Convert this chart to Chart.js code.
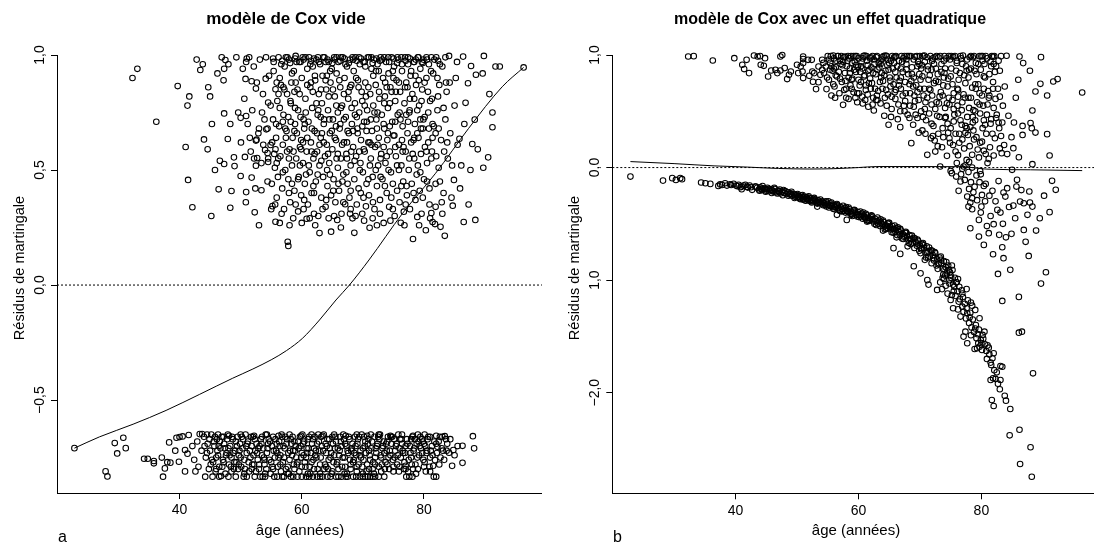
<!DOCTYPE html>
<html><head><meta charset="utf-8">
<script src="https://cdn.jsdelivr.net/npm/chart.js@4.4.1/dist/chart.umd.min.js"></script>
<style>
html,body{margin:0;padding:0;background:#fff;overflow:hidden;width:1094px;height:546px;}
canvas{position:absolute;top:0;}
#c1{left:0}
#c2{left:547px}
</style></head><body>
<canvas id="c1" width="547" height="546"></canvas>
<canvas id="c2" width="570" height="546"></canvas>
<script>
// ---------- tick values / labels ----------
const ageTicks = [40, 60, 80];
const ageTickLabels = ['40', '60', '80'];
const leftYTicks = [1, 0.5, 0, -0.5];
const leftYTickLabels = ['1,0', '0,5', '0,0', '\u22120,5'];
const rightYTicks = [1, 0, -1, -2];
const rightYTickLabels = ['1,0', '0,0', '1,0', '\u22122,0'];

// ---------- panel a : modèle vide (pairs age, résidu) ----------
const leftDeaths = [
32.3,0.90, 33.1,0.94, 36.2,0.71, 39.7,0.865, 41.6,0.82, 41.3,0.78, 41.0,0.60, 41.4,0.457, 42.1,0.338, 42.8,0.98,
43.4,0.935, 43.8,0.96, 44.7,0.86, 44.0,0.633, 44.6,0.59, 45.3,0.70, 45.2,0.30, 45.8,0.50, 46.4,0.416, 46.6,0.54,
47.3,0.526, 47.3,0.746, 47.2,0.89, 47.3,0.94, 47.5,0.978, 47.9,0.635, 48.3,0.336, 48.5,0.409, 48.9,0.555, 49.0,0.517,
50.0,0.727, 50.0,0.474, 50.8,0.896, 50.9,0.735, 50.9,0.97, 51.0,0.985, 50.7,0.557, 50.9,0.404, 51.8,0.886, 51.8,0.467,
52.3,0.316, 52.5,0.854, 52.5,0.628, 52.6,0.632, 52.2,0.55, 52.7,0.552, 52.5,0.519, 53.0,0.26, 53.4,0.412, 53.5,0.75,
54.1,0.897, 54.2,0.677, 54.4,0.68, 54.0,0.587, 54.5,0.793, 54.4,0.574, 54.5,0.535, 54.5,0.55, 54.9,0.609, 55.7,0.851,
55.7,0.275, 55.2,0.343, 55.0,0.33, 55.7,0.59,
55.1,0.44, 55.3,0.72, 55.4,0.93, 55.6,0.51, 55.8,0.64, 55.9,0.38, 56.0,0.80, 56.1,0.47, 56.2,0.99, 56.3,0.69,
56.4,0.27, 56.5,0.56, 56.6,0.87, 56.8,0.42, 56.9,0.61, 57.0,0.74, 57.1,0.33, 57.2,0.95, 57.3,0.50, 57.5,0.67,
57.6,0.83, 57.7,0.188, 57.8,0.17, 57.8,0.46, 57.9,0.98, 58.0,0.59, 58.1,0.36, 58.2,0.71, 58.3,0.88, 58.4,0.52,
58.5,0.64, 58.6,0.29, 58.7,0.93, 58.8,0.41, 58.9,0.77, 59.0,0.996, 59.1,0.55, 59.2,0.66, 59.3,0.85, 59.4,0.32,
59.5,0.47, 59.6,0.97, 59.7,0.60, 59.8,0.73, 59.9,0.39, 60.0,0.27, 60.0,0.90, 60.2,0.53, 60.3,0.98, 60.4,0.68,
60.5,0.44, 60.6,0.81, 60.8,0.288, 60.8,0.58, 60.9,0.94,
61.0,0.35, 61.1,0.71, 61.2,0.99, 61.3,0.49, 61.4,0.86, 61.5,0.62, 61.6,0.40, 61.7,0.77, 61.8,0.95, 61.9,0.55,
62.0,0.31, 62.1,0.67, 62.2,0.89, 62.3,0.45, 62.4,0.98, 62.5,0.58, 62.6,0.74, 62.7,0.30, 62.8,0.83, 62.9,0.226,
62.9,0.52, 63.0,0.96, 63.1,0.64, 63.2,0.38, 63.3,0.79, 63.4,0.91, 63.5,0.47, 63.6,0.70, 63.7,0.99, 63.8,0.56,
63.9,0.34, 64.0,0.85, 64.1,0.61, 64.2,0.43, 64.3,0.76, 64.4,0.97, 64.5,0.53, 64.6,0.66, 64.7,0.88, 64.8,0.232,
64.8,0.39, 64.9,0.94, 65.0,0.59, 65.1,0.72, 65.2,0.46, 65.3,0.99, 65.4,0.82, 65.5,0.36, 65.6,0.63, 65.7,0.92,
65.8,0.283, 65.9,0.51, 65.9,0.75,
66.0,0.97, 66.1,0.41, 66.2,0.68, 66.3,0.86, 66.4,0.55, 66.5,0.31, 66.6,0.78, 66.7,0.99, 66.8,0.48, 66.9,0.62,
67.0,0.90, 67.1,0.351, 67.2,0.73, 67.3,0.57, 67.4,0.95, 67.5,0.44, 67.6,0.81, 67.7,0.66, 67.8,0.38, 67.9,0.98,
68.0,0.52, 68.1,0.87, 68.2,0.70, 68.3,0.29, 68.4,0.60, 68.5,0.93, 68.6,0.227, 68.6,0.46, 68.7,0.79, 68.8,0.99,
68.9,0.56, 69.0,0.35, 69.1,0.68, 69.2,0.89, 69.3,0.42, 69.4,0.75, 69.5,0.96, 69.6,0.53, 69.7,0.63, 69.8,0.84,
69.9,0.31, 70.0,0.49, 70.1,0.97, 70.2,0.71, 70.3,0.58, 70.4,0.88, 70.5,0.342, 70.6,0.44, 70.7,0.76, 70.8,0.99,
70.9,0.62,
71.0,0.39, 71.1,0.249, 71.2,0.83, 71.3,0.55, 71.4,0.94, 71.5,0.67, 71.6,0.47, 71.7,0.78, 71.8,0.98, 71.9,0.33,
72.0,0.60, 72.1,0.87, 72.2,0.72, 72.3,0.43, 72.4,0.96, 72.5,0.52, 72.6,0.64, 72.7,0.81, 72.8,0.37, 72.9,0.99,
73.0,0.57, 73.1,0.74, 73.2,0.46, 73.3,0.90, 73.4,0.27, 73.5,0.68, 73.6,0.82, 73.7,0.53, 73.8,0.97, 73.9,0.40,
74.0,0.63, 74.1,0.77, 74.2,0.92, 74.3,0.34, 74.4,0.58, 74.5,0.86, 74.6,0.49, 74.7,0.99, 74.8,0.71, 74.9,0.44,
75.0,0.65, 75.1,0.95, 75.2,0.30, 75.3,0.80, 75.4,0.56, 75.5,0.89, 75.6,0.41, 75.7,0.74, 75.8,0.98, 75.9,0.61,
76.0,0.36, 76.1,0.84, 76.2,0.271, 76.3,0.52, 76.4,0.93, 76.5,0.69, 76.6,0.45, 76.7,0.319, 76.8,0.79, 76.9,0.99,
77.0,0.58, 77.1,0.88, 77.2,0.39, 77.3,0.66, 77.4,0.96, 77.5,0.50, 77.6,0.75, 77.7,0.33, 77.8,0.91, 77.9,0.62,
78.0,0.44, 78.1,0.83, 78.2,0.20, 78.3,0.97, 78.4,0.55, 78.5,0.70, 78.6,0.37, 78.7,0.87, 78.8,0.48, 78.9,0.296,
79.0,0.99, 79.1,0.64, 79.2,0.78, 79.3,0.41, 79.4,0.94, 79.5,0.57, 79.6,0.31, 79.7,0.85, 79.8,0.68, 79.9,0.98,
80.0,0.46, 80.1,0.73, 80.3,0.238, 80.4,0.90, 80.5,0.53, 80.7,0.62, 80.8,0.96, 80.9,0.35,
81.0,0.80, 81.2,0.313, 81.3,0.58, 81.4,0.274, 81.5,0.92, 81.6,0.69, 81.8,0.265, 81.9,0.44, 82.0,0.99, 82.2,0.76,
82.4,0.51, 82.5,0.87, 82.7,0.253, 82.8,0.63, 83.0,0.95, 83.2,0.40, 83.4,0.214, 83.5,0.72, 83.7,0.84, 83.9,0.55,
84.1,0.996, 84.3,0.66, 84.5,0.38, 84.7,0.345, 84.9,0.457, 85.0,0.78, 85.2,0.90, 85.5,0.61, 85.8,0.636, 86.1,0.52,
86.4,0.993, 86.5,0.274, 86.8,0.792, 87.2,0.877, 87.6,0.50, 87.7,0.952, 87.9,0.613, 88.3,0.719, 88.4,0.283, 88.5,0.914,
88.8,0.59, 89.6,0.92, 89.7,0.51, 89.8,0.996, 90.5,0.555, 90.7,0.83, 91.2,0.75, 91.2,0.686, 91.7,0.95, 92.4,0.95,
96.3,0.946
];
const leftDeathsMore = [
50.05,0.62, 50.35,0.94, 50.6,0.81, 50.85,0.36, 51.15,0.70, 51.4,0.99, 51.65,0.58, 51.9,0.76, 52.15,0.95, 52.4,0.42,
52.65,0.88, 52.9,0.66, 53.15,0.98, 53.4,0.53, 53.65,0.83, 53.9,0.72, 54.15,0.99, 54.4,0.45, 54.65,0.91, 54.9,0.78,
55.15,0.62, 55.4,0.97, 55.65,0.35, 55.9,0.88, 56.15,0.55, 56.4,0.77, 56.65,0.96, 56.9,0.49, 57.15,0.85, 57.4,0.64,
57.65,0.99, 57.9,0.40, 58.15,0.80, 58.4,0.92, 58.65,0.58, 58.9,0.70, 59.15,0.97, 59.4,0.46, 59.65,0.83, 59.9,0.63,
60.15,0.99, 60.4,0.37, 60.65,0.75, 60.9,0.87, 61.15,0.52, 61.4,0.96, 61.65,0.68, 61.9,0.43, 62.15,0.91, 62.4,0.79,
62.65,0.99, 62.9,0.61, 63.15,0.85, 63.4,0.33, 63.65,0.72, 63.9,0.97, 64.15,0.50, 64.4,0.82, 64.65,0.93, 64.9,0.67,
65.15,0.41, 65.4,0.98, 65.65,0.78, 65.9,0.57, 66.15,0.89, 66.4,0.99, 66.65,0.45, 66.9,0.72, 67.15,0.96, 67.4,0.62,
67.65,0.84, 67.9,0.31, 68.15,0.77, 68.4,0.98, 68.65,0.54, 68.9,0.90, 69.15,0.66, 69.4,0.99, 69.65,0.40, 69.9,0.80,
70.15,0.59, 70.4,0.95, 70.65,0.71, 70.9,0.86, 71.15,0.52, 71.4,0.99, 71.65,0.36, 71.9,0.75, 72.15,0.93, 72.4,0.61,
72.65,0.84, 72.9,0.47, 73.15,0.98, 73.4,0.70, 73.65,0.88, 73.9,0.56, 74.15,0.99, 74.4,0.79, 74.65,0.38, 74.9,0.93,
75.15,0.65, 75.4,0.84, 75.65,0.99, 75.9,0.50, 76.15,0.72, 76.4,0.96, 76.65,0.60, 76.9,0.86, 77.15,0.43, 77.4,0.99,
77.65,0.76, 77.9,0.93, 78.15,0.57, 78.4,0.81, 78.65,0.98, 78.9,0.66, 79.15,0.89, 79.4,0.49, 79.65,0.97, 79.9,0.72,
80.15,0.60, 80.4,0.99, 80.65,0.84, 80.9,0.42, 81.15,0.93, 81.4,0.70, 81.7,0.98, 82.0,0.56, 82.3,0.82, 82.6,0.96,
82.9,0.36, 83.2,0.77, 83.5,0.99, 83.8,0.62, 84.2,0.88, 84.6,0.52, 85.4,0.97, 85.9,0.42, 86.6,0.70, 87.3,0.35,
55.3,0.985, 56.8,0.975, 57.4,0.99, 58.1,0.965, 58.9,0.985, 59.8,0.97, 60.6,0.99, 61.5,0.975, 62.0,0.985, 62.8,0.97,
63.5,0.99, 64.2,0.98, 65.0,0.965, 65.7,0.99, 66.3,0.975, 67.0,0.985, 67.7,0.965, 68.3,0.99, 69.0,0.975, 69.7,0.985,
70.3,0.97, 71.0,0.99, 71.6,0.965, 72.2,0.985, 72.8,0.975, 73.5,0.99, 74.3,0.97, 75.0,0.985, 75.6,0.965, 76.3,0.99,
77.0,0.975, 77.7,0.985, 78.4,0.97, 79.1,0.99, 79.8,0.965, 80.5,0.98, 81.2,0.99, 82.3,0.975,
60.3,0.72, 60.9,0.64, 61.5,0.88, 62.1,0.57, 62.7,0.76, 63.3,0.66, 63.9,0.89, 64.5,0.72, 65.1,0.85, 65.7,0.55,
66.3,0.70, 66.9,0.83, 67.5,0.67, 68.1,0.58, 68.7,0.74, 69.3,0.86, 69.9,0.69, 70.5,0.82, 71.1,0.62, 71.7,0.91,
72.3,0.68, 72.9,0.55, 73.5,0.79, 74.1,0.66, 74.7,0.84, 75.3,0.71, 75.9,0.88, 76.5,0.58, 77.1,0.74, 77.7,0.81,
78.3,0.63, 78.9,0.76, 79.5,0.68, 80.1,0.88, 80.7,0.75, 81.3,0.81, 81.9,0.66, 57.0,0.86, 57.6,0.58, 58.2,0.79,
58.8,0.67, 59.4,0.76, 55.8,0.70, 56.4,0.90, 53.0,0.68, 53.7,0.61, 51.5,0.64, 49.6,0.75, 48.3,0.70, 46.2,0.92,
45.0,0.82, 48.0,0.96, 49.3,0.99, 46.9,0.99
];
const leftDeathsExtra = [
55.5,0.57, 56.7,0.31, 57.3,0.68, 58.4,0.44, 59.0,0.35, 59.7,0.52, 60.7,0.48, 61.3,0.29, 62.0,0.40, 62.5,0.66,
63.2,0.54, 64.0,0.37, 64.6,0.48, 65.3,0.30, 66.0,0.44, 66.8,0.36, 67.3,0.49, 68.0,0.41, 68.8,0.30, 69.5,0.50,
70.1,0.38, 70.9,0.46, 71.6,0.29, 72.1,0.50, 72.8,0.31, 73.6,0.43, 74.2,0.50, 74.9,0.33, 75.6,0.52, 76.3,0.43,
77.0,0.35, 77.6,0.55, 78.3,0.40, 79.0,0.52, 79.8,0.38, 80.5,0.45, 81.2,0.55, 81.9,0.34, 82.6,0.45, 83.3,0.58,
56.2,0.83, 57.8,0.73, 59.0,0.88, 60.2,0.62, 61.8,0.84, 63.1,0.73, 64.1,0.91, 65.6,0.69, 66.6,0.61, 67.9,0.86,
69.0,0.73, 70.3,0.78, 71.3,0.72, 72.6,0.93, 73.9,0.86, 75.0,0.90, 76.0,0.75, 77.3,0.86, 78.6,0.91, 79.6,0.80,
80.8,0.68, 82.2,0.90, 83.6,0.88,
55.9,0.53, 56.9,0.71, 57.9,0.55, 58.8,0.84, 59.9,0.59, 60.5,0.70, 61.6,0.58, 62.6,0.48, 63.6,0.62, 64.3,0.57,
65.4,0.64, 66.4,0.77, 67.4,0.55, 68.4,0.67, 69.4,0.58, 70.6,0.67, 71.4,0.61, 72.4,0.75, 73.4,0.60, 74.4,0.69,
75.3,0.60, 76.4,0.63, 77.4,0.71, 78.4,0.64, 79.4,0.72, 80.4,0.58, 81.4,0.64, 82.4,0.68,
58.0,0.26, 60.3,0.33, 62.2,0.26, 64.4,0.29, 66.4,0.25, 68.0,0.33, 70.2,0.28, 72.3,0.26, 74.5,0.28, 76.8,0.26,
79.2,0.26, 81.0,0.29, 83.0,0.31
];
const leftCensored = [
22.8,-0.709, 27.9,-0.81, 28.2,-0.832, 29.4,-0.687, 29.8,-0.732, 30.8,-0.664, 31.2,-0.709, 34.2,-0.755, 34.8,-0.755, 35.8,-0.765,
35.8,-0.775, 37.1,-0.75, 37.3,-0.833, 37.6,-0.797, 38.0,-0.77, 38.5,-0.772, 38.3,-0.684, 39.3,-0.72, 39.5,-0.664, 40.0,-0.661,
40.5,-0.658, 39.9,-0.768, 40.9,-0.717, 40.9,-0.81, 41.5,-0.652, 41.3,-0.733, 42.6,-0.81, 43.3,-0.648, 43.7,-0.648,
42.1,-0.70, 42.4,-0.76, 42.9,-0.68, 43.1,-0.79, 43.6,-0.72, 44.0,-0.66, 44.3,-0.75, 44.6,-0.69, 44.8,-0.80, 45.0,-0.72,
45.2,-0.65, 45.5,-0.77, 45.7,-0.70, 45.9,-0.81, 46.1,-0.67, 46.3,-0.74, 46.5,-0.79, 46.7,-0.71, 46.9,-0.66, 47.1,-0.76,
47.3,-0.69, 47.5,-0.82, 47.7,-0.73, 47.9,-0.65, 48.1,-0.78, 48.3,-0.70, 48.5,-0.75, 48.7,-0.67, 48.9,-0.80, 49.1,-0.72,
49.3,-0.77, 49.5,-0.66, 49.7,-0.74, 49.9,-0.69, 50.1,-0.79, 50.3,-0.71, 50.6,-0.76, 50.8,-0.65, 51.0,-0.73, 51.2,-0.68,
51.4,-0.81, 51.6,-0.75, 51.8,-0.70, 52.0,-0.66, 52.2,-0.78, 52.4,-0.72, 52.6,-0.69, 52.8,-0.76, 53.0,-0.80, 53.3,-0.67,
53.5,-0.74, 53.7,-0.71, 53.9,-0.78, 54.1,-0.65, 54.3,-0.73, 54.5,-0.69, 54.7,-0.76, 54.9,-0.82, 55.1,-0.70, 55.3,-0.66,
55.6,-0.75, 55.8,-0.72, 56.1,-0.79, 56.3,-0.68, 56.5,-0.74, 56.7,-0.65, 56.9,-0.77, 57.2,-0.71, 57.4,-0.80, 57.6,-0.67,
57.8,-0.73, 58.0,-0.76, 58.3,-0.69, 58.5,-0.66, 58.7,-0.78, 58.9,-0.72, 59.1,-0.75, 59.4,-0.68, 59.6,-0.81, 59.8,-0.70,
60.1,-0.65, 60.3,-0.74, 60.5,-0.77, 60.8,-0.71, 61.0,-0.67, 61.3,-0.79, 61.5,-0.73, 61.7,-0.69, 61.9,-0.76, 62.1,-0.66,
62.3,-0.72, 62.6,-0.80, 62.8,-0.68, 63.1,-0.75, 63.3,-0.70, 63.6,-0.65, 63.8,-0.78, 64.0,-0.73, 64.2,-0.67, 64.4,-0.76,
64.6,-0.71, 64.9,-0.82, 65.1,-0.69, 65.3,-0.74, 65.5,-0.66, 65.8,-0.77, 66.2,-0.72, 66.4,-0.68, 66.6,-0.79, 66.8,-0.65,
67.0,-0.75, 67.3,-0.70, 67.6,-0.73, 67.8,-0.67, 68.0,-0.80, 68.2,-0.71, 68.5,-0.76, 68.7,-0.66, 68.9,-0.74, 69.1,-0.69,
69.3,-0.78, 69.6,-0.72, 69.8,-0.65, 70.1,-0.76, 70.3,-0.70, 70.6,-0.81, 70.9,-0.67, 71.1,-0.74, 71.4,-0.71, 71.7,-0.77,
71.9,-0.66, 72.2,-0.73, 72.4,-0.69, 72.6,-0.79, 72.8,-0.65, 73.0,-0.75, 73.2,-0.71, 73.4,-0.68, 73.7,-0.77, 73.9,-0.72,
74.1,-0.66, 74.3,-0.80, 74.5,-0.74, 74.7,-0.69, 74.9,-0.76, 75.1,-0.67, 75.3,-0.72, 75.6,-0.78, 75.8,-0.65, 76.0,-0.71,
76.2,-0.75, 76.4,-0.69, 76.7,-0.80, 76.9,-0.73, 77.2,-0.67, 77.4,-0.812, 77.0,-0.786, 77.7,-0.70, 77.9,-0.75, 78.1,-0.66,
78.3,-0.72, 78.6,-0.78, 78.8,-0.69, 79.0,-0.65, 79.2,-0.74, 79.5,-0.71, 79.7,-0.67, 79.9,-0.76, 80.2,-0.70, 80.4,-0.73,
80.7,-0.66, 80.9,-0.79, 81.1,-0.72, 81.5,-0.786, 81.8,-0.761, 82.2,-0.703, 82.4,-0.68, 82.7,-0.75, 83.0,-0.66, 83.4,-0.657,
83.7,-0.72, 84.1,-0.729, 84.6,-0.786, 84.8,-0.717, 85.5,-0.70, 86.3,-0.699, 86.3,-0.773, 88.0,-0.657, 88.2,-0.71,
45.1,-0.78, 45.6,-0.68, 46.0,-0.75, 46.4,-0.70, 46.8,-0.83, 47.2,-0.66, 47.6,-0.74, 48.0,-0.71, 48.4,-0.79, 48.8,-0.73,
49.2,-0.68, 49.6,-0.80, 50.0,-0.75, 50.4,-0.67, 50.9,-0.70, 51.3,-0.77, 51.7,-0.66, 52.1,-0.74, 52.5,-0.81, 52.9,-0.71,
53.4,-0.69, 53.8,-0.75, 54.2,-0.80, 54.6,-0.67, 55.0,-0.77, 55.4,-0.72, 55.9,-0.69, 56.2,-0.75, 56.6,-0.81, 57.0,-0.70,
57.3,-0.66, 57.7,-0.79, 58.1,-0.72, 58.4,-0.74, 58.8,-0.68, 59.2,-0.78, 59.5,-0.71, 59.9,-0.75, 60.2,-0.69, 60.6,-0.79,
60.9,-0.73, 61.2,-0.66, 61.6,-0.77, 62.0,-0.71, 62.4,-0.75, 62.7,-0.65, 63.0,-0.78, 63.5,-0.72, 63.9,-0.69, 64.3,-0.80,
64.7,-0.75, 65.0,-0.66, 65.4,-0.71, 65.7,-0.78, 66.1,-0.74, 66.5,-0.70, 66.9,-0.67, 67.1,-0.79, 67.5,-0.72, 67.9,-0.76,
68.3,-0.69, 68.6,-0.73, 69.0,-0.81, 69.4,-0.66, 69.7,-0.75, 70.0,-0.71, 70.4,-0.68, 70.7,-0.78, 71.0,-0.72, 71.3,-0.65,
71.6,-0.80, 72.0,-0.75, 72.3,-0.70, 72.7,-0.67, 73.1,-0.78, 73.5,-0.73, 73.8,-0.69, 74.2,-0.75, 74.6,-0.66, 75.0,-0.79,
75.4,-0.70, 75.7,-0.74, 76.1,-0.67, 76.5,-0.72, 76.8,-0.77, 77.3,-0.69, 77.8,-0.73, 78.2,-0.80, 78.5,-0.67, 78.9,-0.75,
79.3,-0.70, 79.8,-0.68, 80.1,-0.77, 80.5,-0.72, 81.0,-0.66, 81.4,-0.74, 82.0,-0.69, 82.5,-0.78, 83.1,-0.72, 83.6,-0.67
];
const leftCensoredMore = [
44.1,-0.70, 44.5,-0.73, 44.9,-0.67, 45.3,-0.76, 45.8,-0.66, 46.2,-0.72, 46.6,-0.68, 47.0,-0.79, 47.4,-0.71, 47.8,-0.67,
48.2,-0.74, 48.6,-0.66, 49.0,-0.77, 49.4,-0.70, 49.8,-0.72, 50.2,-0.66, 50.7,-0.80, 51.1,-0.69, 51.5,-0.72, 51.9,-0.78,
52.3,-0.67, 52.7,-0.73, 53.1,-0.70, 53.5,-0.66, 53.9,-0.76, 54.4,-0.71, 54.8,-0.68, 55.2,-0.79, 55.7,-0.67, 56.0,-0.73,
56.4,-0.70, 56.8,-0.66, 57.1,-0.75, 57.5,-0.69, 57.9,-0.82, 58.2,-0.67, 58.6,-0.72, 59.0,-0.70, 59.3,-0.77, 59.7,-0.66,
60.0,-0.73, 60.4,-0.68, 60.7,-0.75, 61.1,-0.71, 61.4,-0.82, 61.8,-0.67, 62.2,-0.74, 62.5,-0.69, 62.9,-0.72, 63.2,-0.66,
63.7,-0.80, 64.1,-0.70, 64.5,-0.67, 64.8,-0.73, 65.2,-0.77, 65.6,-0.68, 65.9,-0.71, 66.3,-0.66, 66.7,-0.75, 67.1,-0.69,
67.4,-0.82, 67.7,-0.66, 68.1,-0.72, 68.4,-0.77, 68.8,-0.70, 69.2,-0.67, 69.5,-0.74, 69.9,-0.79, 70.2,-0.66, 70.5,-0.73,
70.8,-0.69, 71.2,-0.76, 71.5,-0.68, 71.8,-0.82, 72.1,-0.71, 72.5,-0.66, 72.9,-0.74, 73.3,-0.70, 73.6,-0.80, 74.0,-0.68,
74.4,-0.72, 74.8,-0.66, 75.2,-0.75, 75.5,-0.69, 75.9,-0.81, 76.3,-0.67, 76.6,-0.73, 77.0,-0.70, 77.5,-0.76, 77.9,-0.67,
78.4,-0.71, 78.7,-0.82, 79.1,-0.68, 79.4,-0.66, 79.7,-0.73, 80.0,-0.69, 80.3,-0.81, 80.6,-0.67, 81.0,-0.75, 81.3,-0.70,
81.7,-0.68, 82.1,-0.73, 82.6,-0.66, 82.9,-0.71, 83.3,-0.76, 83.8,-0.69, 84.3,-0.67, 85.0,-0.74,
46.0,-0.80, 47.2,-0.77, 48.5,-0.81, 49.7,-0.78, 50.6,-0.82, 51.8,-0.80, 53.0,-0.78, 54.0,-0.82, 55.3,-0.80, 56.5,-0.78,
57.7,-0.82, 58.8,-0.80, 60.0,-0.79, 61.0,-0.82, 62.0,-0.80, 63.0,-0.82, 64.0,-0.79, 65.0,-0.81, 66.0,-0.80, 67.0,-0.82,
68.0,-0.78, 69.0,-0.79, 70.0,-0.82, 71.0,-0.80, 72.0,-0.78, 73.0,-0.81, 74.0,-0.78, 75.0,-0.81, 76.0,-0.79, 77.0,-0.80,
78.0,-0.78, 79.0,-0.80, 80.0,-0.79, 81.0,-0.81,
44.5,-0.65, 46.3,-0.65, 48.1,-0.655, 50.0,-0.65, 52.2,-0.655, 54.3,-0.65, 56.2,-0.655, 58.0,-0.65, 59.9,-0.655, 61.6,-0.65,
63.4,-0.655, 65.3,-0.65, 67.2,-0.655, 69.0,-0.65, 70.7,-0.655, 72.6,-0.65, 74.5,-0.655, 76.4,-0.65, 78.2,-0.655, 80.1,-0.65,
82.0,-0.655
];
// ages of censored subjects sitting on the lowest residual (-0,833)
const leftFloorAges = [44.2, 45.4, 46.5, 48.0, 49.2, 50.5, 51.0, 52.3, 53.2, 53.6, 54.0, 55.5, 56.0, 56.8, 57.1, 58.2,
  58.6, 59.3, 60.0, 60.7, 61.2, 61.8, 62.5, 63.0, 63.4, 64.2, 64.7, 65.6, 66.0, 66.5, 67.2, 67.5, 68.4, 68.9, 69.5,
  70.0, 70.4, 70.8, 71.2, 71.6, 72.0, 72.6, 73.5, 77.1, 77.6, 78.1, 81.6, 82.0];
const leftFloorRes = -0.833;
const leftSmoothAge = [22.8, 26.9, 32.4, 37.8, 43.3, 48.7, 52.0, 55.0, 57.5, 60.1, 62.9, 65.6, 67.8, 71.0, 76.5, 81.9, 87.3, 92.8, 96.3];
const leftSmoothRes = [-0.709, -0.66, -0.605, -0.545, -0.475, -0.405, -0.365, -0.325, -0.285, -0.232, -0.152, -0.065, 0.0, 0.109, 0.312, 0.486, 0.681, 0.862, 0.946];

// ---------- panel b : effet quadratique ----------
const rightDeaths = [
32.3,0.987, 33.2,0.99, 36.3,0.951, 39.8,0.972, 41.1,0.913, 41.4,0.875, 41.8,0.957, 42.2,0.839, 43.0,0.996, 43.6,0.987,
44.0,0.99, 44.1,0.913, 44.6,0.904, 44.8,0.972, 45.3,0.809, 45.8,0.862, 46.5,0.868, 46.8,0.839, 47.3,0.862, 47.3,0.987,
47.6,1.0, 48.0,0.884, 48.4,0.786, 48.7,0.824, 49.0,0.853, 50.0,0.913, 50.2,0.839, 50.6,0.898, 50.9,0.853, 51.0,0.987,
51.0,0.964, 51.0,0.928, 51.0,0.795, 51.8,0.957, 52.0,0.815, 52.4,0.957, 52.5,0.853, 52.6,0.762, 52.8,0.839, 53.1,0.697,
53.5,0.898, 53.5,0.759, 53.8,0.824, 54.1,0.868, 54.1,0.957, 54.4,0.839, 54.7,0.898, 54.8,0.697,
55.0,0.99, 55.2,0.78, 55.4,0.93, 55.6,0.64, 55.8,0.86, 56.0,0.97, 56.1,0.72, 56.3,0.89, 56.5,0.81, 56.7,0.99,
56.9,0.66, 57.1,0.92, 57.3,0.76, 57.5,0.557, 57.6,0.98, 57.8,0.84, 58.0,0.70, 58.2,0.95, 58.4,0.61, 58.6,0.88,
58.8,0.99, 59.0,0.79, 59.2,0.67, 59.4,0.94, 59.6,0.85, 59.8,0.58, 60.0,0.97, 60.2,0.73, 60.4,0.90, 60.6,0.63,
60.8,0.99, 61.0,0.82, 61.2,0.69, 61.4,0.95, 61.6,0.54, 61.8,0.87, 62.0,0.98, 62.2,0.75, 62.4,0.62, 62.5,0.507,
62.6,0.92, 62.8,0.83, 63.0,0.99, 63.2,0.68, 63.4,0.89, 63.6,0.57, 63.8,0.96, 64.0,0.77, 64.2,0.46, 64.4,0.86,
64.6,0.99, 64.8,0.65, 64.9,0.38, 65.0,0.93, 65.2,0.72, 65.4,0.52, 65.6,0.88, 65.8,0.98, 66.0,0.61, 66.2,0.80,
66.4,0.43, 66.6,0.95, 66.8,0.359, 66.9,0.70, 67.0,0.99, 67.2,0.85, 67.4,0.55, 67.6,0.76, 67.8,0.92, 68.0,0.47,
68.2,0.99, 68.4,0.66, 68.6,0.217, 68.7,0.83, 68.9,0.38, 69.0,0.96, 69.2,0.59, 69.4,0.73, 69.6,0.90, 69.8,0.31,
70.0,0.99, 70.2,0.50, 70.4,0.81, 70.6,0.64, 70.8,0.94, 71.0,0.42, 71.2,0.113, 71.3,0.87, 71.5,0.70, 71.7,0.99,
71.9,0.56, 72.1,0.28, 72.3,0.92, 72.5,0.142, 72.6,0.77, 72.8,0.46, 73.0,0.98, 73.2,0.63, 73.3,0.009, 73.5,0.85,
73.7,0.35, 73.9,0.95, 74.1,0.53, 74.4,0.104, 74.5,0.72, 74.7,0.99, 74.9,0.22, 75.1,0.88, 75.3,0.60, 75.5,0.41,
75.8,0.142, 76.0,0.93, 76.2,0.69, 76.4,0.30, 76.6,0.99, 76.8,0.51, 77.1,0.009, 77.2,0.82, 77.4,0.37, 77.6,0.068,
77.7,0.96, 77.9,0.62, 78.1,0.19, 78.3,0.88, 78.5,0.113, 78.6,0.45, 78.8,0.99, 79.0,0.74, 79.2,0.27, 79.5,0.92,
79.7,0.56, 80.0,0.99, 80.2,0.35, 80.4,0.81, 80.7,0.12, 80.9,0.97, 81.2,0.077, 81.3,0.64, 81.6,0.90, 82.0,0.107,
82.1,0.99, 82.5,0.47, 83.0,0.86, 83.3,0.128, 83.4,0.40, 83.8,0.72,
84.1,0.993, 84.9,0.27, 85.2,0.172, 85.3,0.40, 86.1,0.092, 86.2,0.987, 86.7,0.37, 86.7,0.29, 86.8,0.928, 87.9,0.86,
88.0,0.395, 88.2,0.35, 88.3,0.507, 88.3,0.03, 88.8,0.311, 88.8,0.676, 89.6,0.744, 89.7,0.981, 90.7,0.64, 90.7,0.297,
91.1,0.107, 91.7,0.765, 92.4,0.786, 96.4,0.667
];
const rightDeathsMore = [
54.3,0.93, 54.9,0.80, 55.5,0.99, 55.9,0.74, 56.4,0.95, 56.8,0.85, 57.2,0.99, 57.7,0.69, 58.1,0.90, 58.5,0.97,
58.9,0.78, 59.3,0.87, 59.7,0.99, 60.1,0.66, 60.5,0.94, 60.9,0.81, 61.3,0.99, 61.7,0.75, 62.1,0.89, 62.5,0.96,
62.9,0.60, 63.3,0.93, 63.7,0.80, 64.1,0.99, 64.5,0.69, 64.9,0.87, 65.3,0.95, 65.7,0.74, 66.1,0.99, 66.5,0.56,
66.9,0.88, 67.3,0.97, 67.7,0.66, 68.1,0.83, 68.5,0.99, 68.9,0.72, 69.3,0.47, 69.7,0.94, 70.1,0.78, 70.5,0.99,
70.9,0.58, 71.3,0.90, 71.7,0.69, 72.1,0.97, 72.5,0.52, 72.9,0.83, 73.3,0.99, 73.7,0.64, 74.1,0.88, 74.5,0.39,
74.9,0.96, 75.3,0.74, 75.7,0.99, 76.1,0.55, 76.5,0.84, 76.9,0.92, 77.3,0.62, 77.7,0.45, 78.1,0.98, 78.5,0.71,
78.9,0.86, 79.3,0.58, 79.7,0.99, 80.1,0.64, 80.5,0.92, 80.9,0.47, 81.3,0.83, 81.7,0.99, 82.3,0.61, 82.8,0.95,
83.5,0.55,
55.2,0.96, 56.0,0.88, 56.6,0.99, 57.4,0.91, 58.3,0.99, 59.0,0.93, 59.9,0.89, 60.7,0.97, 61.5,0.91, 62.3,0.99,
63.1,0.87, 63.9,0.98, 64.7,0.91, 65.5,0.99, 66.3,0.90, 67.1,0.94, 67.9,0.99, 68.7,0.89, 69.5,0.99, 70.3,0.91,
71.1,0.98, 71.9,0.87, 72.7,0.99, 73.5,0.92, 74.3,0.97, 75.1,0.99, 75.9,0.86, 76.7,0.97, 77.5,0.90, 78.3,0.99,
79.1,0.93, 79.9,0.87, 80.7,0.99, 81.5,0.94, 82.4,0.90, 83.2,0.99,
56.2,0.62, 57.0,0.79, 58.7,0.73, 59.5,0.62, 60.3,0.85, 61.1,0.60, 61.9,0.79, 62.7,0.70, 63.5,0.76, 64.3,0.62,
65.1,0.80, 65.9,0.67, 66.7,0.77, 67.5,0.50, 68.3,0.74, 69.1,0.64, 69.9,0.83, 70.7,0.70, 71.5,0.48, 72.3,0.75,
73.1,0.57, 73.9,0.80, 74.7,0.62, 75.5,0.52, 76.3,0.78, 77.1,0.65, 77.9,0.80, 78.7,0.51, 79.5,0.74, 80.3,0.55,
81.1,0.68, 81.9,0.76, 82.7,0.70,
69.6,0.44, 70.4,0.33, 71.8,0.26, 72.9,0.19, 73.8,0.27, 74.6,0.31, 75.4,0.20, 76.2,0.11, 76.9,0.25, 77.8,0.29,
78.7,0.33, 79.4,0.16, 80.1,0.23, 80.8,0.30, 81.5,0.39, 82.2,0.26, 82.9,0.35, 83.7,0.20, 84.4,0.46, 85.6,0.62,
86.0,0.78
];
const rightDeathsExtra = [
55.6,0.90, 56.3,0.82, 57.0,0.95, 57.9,0.77, 58.6,0.84, 59.2,0.99, 60.0,0.78, 60.6,0.88, 61.2,0.73, 61.9,0.97,
62.4,0.84, 63.0,0.64, 63.6,0.92, 64.2,0.82, 64.8,0.96, 65.4,0.63, 66.0,0.85, 66.6,0.73, 67.2,0.64, 67.8,0.87,
68.4,0.55, 69.0,0.80, 69.6,0.67, 70.2,0.88, 70.8,0.52, 71.4,0.78, 72.0,0.64, 72.6,0.88, 73.2,0.45, 73.8,0.73,
74.4,0.57, 75.0,0.81, 75.6,0.47, 76.2,0.63, 76.8,0.38, 77.4,0.75, 78.0,0.53, 78.6,0.40, 79.2,0.83, 79.8,0.48,
80.4,0.70, 81.0,0.56, 81.6,0.43, 82.2,0.85, 83.0,0.63,
55.9,0.995, 57.8,0.985, 59.5,0.99, 61.0,0.995, 62.9,0.98, 64.4,0.995, 66.0,0.985, 67.5,0.99, 69.2,0.985, 70.7,0.995,
72.4,0.98, 74.0,0.99, 75.4,0.985, 77.0,0.995, 78.6,0.98, 80.2,0.99, 81.9,0.985,
55.4,0.87, 57.5,0.94, 59.6,0.91, 61.6,0.86, 63.6,0.95, 65.8,0.93, 67.8,0.96, 69.9,0.92, 72.0,0.95, 74.0,0.84,
76.0,0.95, 78.0,0.87, 80.2,0.95, 82.0,0.92,
72.2,0.37, 73.0,0.30, 74.2,0.45, 75.0,0.35, 75.8,0.30, 76.6,0.42, 77.2,0.17, 78.2,0.36, 79.0,0.42, 79.8,0.22,
80.6,0.38, 81.4,0.18, 82.4,0.44, 83.2,0.28, 84.2,0.12, 81.0,0.04, 79.6,0.09, 78.0,0.05, 76.0,0.04,
58.0,0.62, 58.9,0.70, 59.8,0.66, 60.7,0.57, 61.5,0.65, 62.3,0.56, 63.1,0.60, 63.9,0.70, 64.6,0.55, 65.3,0.45,
66.1,0.69, 66.8,0.50, 67.6,0.59, 68.3,0.44, 69.0,0.54, 69.8,0.60, 70.5,0.45, 71.2,0.62, 71.9,0.39, 72.7,0.58,
73.4,0.67, 74.1,0.44, 74.8,0.56, 75.5,0.66, 76.2,0.48, 76.9,0.58, 77.6,0.35, 78.3,0.62, 79.0,0.50, 79.7,0.66,
80.4,0.42, 81.2,0.62, 82.0,0.53, 82.8,0.40,
58.4,0.80, 60.4,0.76, 62.0,0.70, 63.8,0.84, 65.2,0.77, 66.9,0.80, 68.6,0.77, 70.0,0.70, 71.6,0.82, 73.0,0.76,
74.6,0.79, 76.1,0.70, 77.6,0.86, 79.1,0.70, 80.6,0.80, 81.9,0.70,
70.9,0.30, 72.4,0.24, 73.6,0.18, 74.8,0.26, 76.4,0.22, 77.4,0.31, 78.8,0.25, 80.4,0.15, 81.8,0.30, 83.0,0.17
];
const rightDeathTail = [
75.0,-0.03, 75.2,-0.05, 75.9,-0.08, 76.3,-0.207, 76.6,-0.124, 77.7,-0.258, 78.5,-0.272, 78.2,-0.311, 77.9,-0.347, 78.5,-0.37,
79.6,-0.465, 80.0,-0.347, 80.1,-0.243, 80.4,-0.163, 80.7,-0.145, 81.8,-0.207, 82.6,-0.376, 83.1,-0.40, 82.0,-0.503, 83.6,-0.222,
83.9,-0.258, 84.2,-0.183, 85.2,-0.338, 86.3,-0.302, 86.9,-0.317, 87.9,-0.311, 88.3,-0.347, 87.5,-0.42, 87.8,-0.213, 85.8,-0.109,
85.7,-0.169, 85.0,-0.02, 91.5,-0.118, 92.1,-0.198, 91.1,-0.396, 79.6,-0.613, 80.4,-0.687, 81.2,-0.583, 82.9,-0.598, 84.9,-0.589,
83.4,-0.708, 83.6,-0.805, 81.9,-0.77, 86.9,-0.554, 88.9,-0.56, 87.7,-0.785, 78.2,-0.539, 84.7,-0.909, 82.7,-0.945, 90.5,-0.93,
89.7,-1.031, 86.1,-1.149, 83.4,-1.185, 86.1,-1.467, 86.6,-1.458, 88.4,-1.828, 84.7,-2.145, 84.6,-2.379, 86.2,-2.329, 88.0,-2.485,
86.3,-2.634, 88.2,-2.747, 76.9,-0.01, 77.4,0.02, 77.9,-0.04, 78.5,0.0, 79.2,-0.07, 79.8,-0.03, 78.3,-0.13, 78.9,-0.17,
79.7,-0.13, 79.9,-0.06,
76.7,-0.06, 77.3,-0.11, 78.0,-0.19, 78.7,-0.22, 79.3,-0.29, 79.9,-0.40, 80.6,-0.30, 81.3,-0.25, 81.5,-0.43, 82.3,-0.30,
82.8,-0.12, 83.5,-0.50, 84.5,-0.35, 85.5,-0.45, 86.5,-0.20, 87.2,-0.66, 89.5,-0.45, 90.2,-0.25, 84.0,-0.62, 80.9,-0.52
];
const rightCensored = [
22.9,-0.08, 28.2,-0.116, 29.7,-0.094, 30.3,-0.11, 31.0,-0.094, 31.3,-0.103, 34.4,-0.133, 35.1,-0.139, 35.9,-0.145, 37.2,-0.163,
37.8,-0.154, 38.3,-0.139, 39.1,-0.148, 39.7,-0.145, 40.5,-0.154, 41.0,-0.169, 41.6,-0.154, 41.0,-0.192, 42.7,-0.198, 43.2,-0.169,
40.1,-0.16, 40.8,-0.175, 42.0,-0.178, 42.3,-0.16, 37.5,-0.15, 38.6,-0.16, 39.3,-0.155, 40.3,-0.165, 41.3,-0.16, 41.9,-0.17, 42.5,-0.175,
43.5,-0.18, 43.8,-0.195, 44.0,-0.175, 44.3,-0.20, 44.5,-0.185, 44.8,-0.19, 45.0,-0.205, 45.2,-0.18, 45.5,-0.21, 45.7,-0.195,
45.9,-0.20, 46.2,-0.215, 46.4,-0.19, 46.6,-0.22, 46.9,-0.205, 47.1,-0.21, 47.3,-0.23, 47.6,-0.215, 47.8,-0.20, 48.0,-0.225,
48.3,-0.235, 48.5,-0.22, 48.8,-0.24, 49.0,-0.23, 49.2,-0.25, 49.5,-0.235, 49.7,-0.26, 50.0,-0.245, 50.2,-0.255, 50.4,-0.27,
50.7,-0.25, 50.9,-0.265, 51.1,-0.28, 51.3,-0.26, 51.6,-0.275, 51.8,-0.29, 52.0,-0.27, 52.3,-0.285, 52.5,-0.30, 52.7,-0.28,
53.0,-0.295, 53.2,-0.31, 53.4,-0.29, 53.7,-0.305, 53.9,-0.32, 54.1,-0.30, 54.4,-0.315, 54.6,-0.335, 54.8,-0.31, 55.0,-0.325,
55.3,-0.34, 55.5,-0.32, 55.7,-0.345, 56.0,-0.33, 56.2,-0.355, 56.4,-0.34, 56.7,-0.36, 56.9,-0.375, 57.1,-0.35, 57.4,-0.37,
57.6,-0.385, 57.8,-0.36, 58.1,-0.38, 58.3,-0.395, 58.5,-0.37, 58.8,-0.39, 59.0,-0.41, 59.2,-0.385, 59.5,-0.40, 59.7,-0.42,
59.9,-0.395, 60.2,-0.415, 60.4,-0.435, 60.6,-0.41, 60.9,-0.43, 61.1,-0.45, 61.3,-0.425, 61.6,-0.445, 61.8,-0.465, 62.0,-0.44,
62.3,-0.46, 62.5,-0.48, 62.7,-0.455, 63.0,-0.475, 63.2,-0.50, 63.4,-0.47, 63.7,-0.49, 63.9,-0.515, 64.1,-0.485, 64.4,-0.51,
64.6,-0.535, 64.8,-0.50, 65.1,-0.525, 65.3,-0.55, 65.5,-0.52, 65.8,-0.545, 66.0,-0.57, 66.2,-0.54, 66.5,-0.565, 66.7,-0.595,
66.9,-0.56, 67.2,-0.59, 67.4,-0.615, 67.6,-0.58, 67.9,-0.61, 68.1,-0.64, 68.3,-0.60, 68.6,-0.635, 68.8,-0.665, 69.0,-0.625,
69.3,-0.66, 69.5,-0.695, 69.7,-0.65, 70.0,-0.69, 70.2,-0.725, 70.4,-0.68, 70.7,-0.715, 70.9,-0.755, 71.1,-0.70, 71.4,-0.745,
71.6,-0.79, 71.8,-0.735, 72.1,-0.78, 72.3,-0.825, 72.5,-0.76, 72.8,-0.815, 73.0,-0.86, 73.2,-0.80, 73.5,-0.85, 73.7,-0.90,
73.9,-0.83, 74.2,-0.885, 74.4,-0.94, 74.6,-0.87, 74.9,-0.93, 75.1,-0.98, 75.3,-0.91,
58.1,-0.465, 69.0,-0.877, 65.7,-0.716, 66.8,-0.767, 56.5,-0.42, 53.3,-0.347, 70.1,-0.94, 71.2,-1.0, 71.4,-1.04, 72.8,-1.087,
75.0,-1.176, 75.2,-1.132, 75.4,-1.25, 76.3,-1.191, 76.6,-1.324, 76.9,-1.236, 77.1,-1.28, 77.7,-1.294, 78.5,-1.227, 79.0,-1.265,
79.7,-1.339, 77.1,-1.502, 77.4,-1.458, 77.7,-1.561, 78.9,-1.612, 79.3,-1.605, 79.7,-1.591, 79.2,-1.517, 79.9,-1.532, 80.2,-1.487,
80.5,-1.458, 81.2,-1.60, 82.0,-1.65, 81.8,-1.694, 81.5,-1.733, 81.6,-1.754, 83.1,-1.763, 83.4,-1.77, 82.5,-1.819, 81.5,-1.887,
81.9,-1.872, 82.3,-1.878, 83.1,-1.887, 81.7,-2.065, 82.0,-2.118, 83.8,-2.027, 84.0,-2.071,
73.3,-1.02, 73.6,-1.08, 73.9,-0.99, 74.2,-1.05, 74.5,-1.12, 74.8,-1.03, 75.6,-1.06, 75.8,-1.14, 76.0,-1.02, 76.1,-1.10,
76.5,-1.17, 76.8,-1.09, 77.0,-1.15, 77.3,-1.21, 77.5,-1.34, 77.8,-1.18, 78.0,-1.38, 78.2,-1.29, 78.4,-1.42, 78.6,-1.35,
78.8,-1.46, 79.1,-1.40, 79.4,-1.48, 79.6,-1.44, 80.0,-1.56, 80.3,-1.52, 80.8,-1.63, 81.0,-1.58
];
const rightCensoredMore = [
43.3,-0.17, 43.9,-0.205, 44.4,-0.165, 44.9,-0.215, 45.4,-0.19, 45.9,-0.225, 46.3,-0.18, 46.8,-0.23, 47.2,-0.195, 47.7,-0.245,
48.1,-0.21, 48.6,-0.25, 49.1,-0.215, 49.6,-0.27, 50.1,-0.235, 50.5,-0.28, 50.9,-0.245, 51.4,-0.295, 51.9,-0.255, 52.4,-0.31,
52.8,-0.27, 53.3,-0.32, 53.8,-0.285, 54.3,-0.335, 54.7,-0.30, 55.2,-0.355, 55.6,-0.31, 56.1,-0.37, 56.5,-0.325, 57.0,-0.385,
57.5,-0.34, 57.9,-0.40, 58.4,-0.355, 58.9,-0.42, 59.3,-0.375, 59.8,-0.435, 60.3,-0.39, 60.7,-0.455, 61.2,-0.41, 61.7,-0.475,
62.1,-0.425, 62.6,-0.50, 63.1,-0.445, 63.5,-0.52, 64.0,-0.47, 64.5,-0.545, 64.9,-0.49, 65.4,-0.575, 65.9,-0.515, 66.3,-0.60,
66.8,-0.545, 67.3,-0.635, 67.7,-0.57, 68.2,-0.67, 68.7,-0.605, 69.1,-0.715, 69.6,-0.64, 70.1,-0.76, 70.5,-0.67, 71.0,-0.80,
71.5,-0.71, 71.9,-0.85, 72.4,-0.75, 72.9,-0.90, 73.4,-0.79, 73.8,-0.95, 74.3,-0.84, 74.8,-1.00, 75.2,-0.87, 75.7,-0.98,
44.2,-0.19, 45.1,-0.195, 46.0,-0.205, 47.0,-0.215, 47.9,-0.225, 48.9,-0.235, 49.8,-0.25, 50.8,-0.265, 51.7,-0.28, 52.6,-0.29,
53.6,-0.305, 54.5,-0.32, 55.4,-0.335, 56.3,-0.35, 57.3,-0.365, 58.2,-0.385, 59.1,-0.40, 60.0,-0.42, 61.0,-0.44, 61.9,-0.455,
62.8,-0.475, 63.8,-0.50, 64.7,-0.52, 65.6,-0.545, 66.6,-0.575, 67.5,-0.605, 68.4,-0.635, 69.4,-0.675, 70.3,-0.715, 71.2,-0.755,
72.2,-0.805, 73.1,-0.85, 74.0,-0.905, 75.0,-0.96, 75.9,-1.02, 76.4,-1.06, 76.2,-1.26, 77.6,-1.25, 78.1,-1.33, 78.3,-1.49,
79.0,-1.43, 79.5,-1.56, 80.1,-1.62, 80.6,-1.57, 80.9,-1.70, 81.3,-1.66, 82.1,-1.80, 82.7,-1.92, 83.0,-1.97
];
const rightCensoredExtra = [
50.3,-0.26, 51.0,-0.285, 51.6,-0.265, 52.2,-0.30, 52.9,-0.285, 53.5,-0.315, 54.2,-0.31, 54.8,-0.345,
55.1,-0.30, 55.9,-0.365, 56.6,-0.335, 57.3,-0.39, 58.0,-0.35, 58.7,-0.41, 59.4,-0.38, 60.1,-0.44, 60.8,-0.40, 61.5,-0.47,
62.2,-0.43, 62.9,-0.51, 63.6,-0.46, 64.3,-0.55, 65.0,-0.49, 65.7,-0.58, 66.4,-0.53, 67.1,-0.63, 67.8,-0.58, 68.5,-0.68,
69.2,-0.63, 69.9,-0.74, 70.6,-0.69, 71.3,-0.80, 72.0,-0.74, 72.7,-0.87, 73.4,-0.82, 74.1,-0.96, 74.7,-0.91, 75.4,-1.04,
76.2,-0.99, 76.9,-1.12, 77.6,-1.08, 78.3,-1.20, 68.0,-0.70, 70.8,-0.82, 73.7,-0.98, 75.5,-1.10, 64.0,-0.56, 66.2,-0.62,
61.4,-0.48, 59.0,-0.43
];
const rightSmoothAge = [22.9, 30.0, 36.5, 42.0, 47.0, 52.0, 56.0, 60.0, 63.0, 70.0, 76.6, 80.9, 88.0, 96.4];
const rightSmoothRes = [0.053, 0.035, 0.015, 0.004, -0.008, -0.013, -0.01, 0.0, 0.009, 0.009, 0.008, -0.014, -0.02, -0.027];

// ---------- helpers ----------
function pairs(flat) { const out = []; for (let i = 0; i < flat.length; i += 2) out.push({ x: flat[i], y: flat[i + 1] }); return out; }
function zip(xs, ys) { return xs.map((x, i) => ({ x: x, y: Array.isArray(ys) ? ys[i] : ys })); }

const FONT = '"Liberation Sans", Arial, Helvetica, sans-serif';

const rDecor = {
  id: 'rDecor',
  afterDraw(chart, args, o) {
    const ctx = chart.ctx, ys = chart.scales.y, a = chart.chartArea;
    ctx.save();
    ctx.fillStyle = '#000';
    ctx.textBaseline = 'alphabetic';
    ctx.textAlign = 'center';
    ctx.font = 'bold ' + o.titleSize + 'px ' + FONT;
    ctx.fillText(o.title, o.titleX, o.titleY);
    ctx.font = '14px ' + FONT;
    o.yTicks.forEach((v, i) => {
      const py = ys.getPixelForValue(v);
      ctx.save(); ctx.translate(a.left - o.yLabelGap, py); ctx.rotate(-Math.PI / 2);
      ctx.fillText(o.yLabels[i], 0, 0); ctx.restore();
    });
    ctx.font = '14.5px ' + FONT;
    ctx.save(); ctx.translate(a.left - o.yTitleGap, o.yTitleY); ctx.rotate(-Math.PI / 2);
    ctx.fillText(o.yTitle, 0, 0); ctx.restore();
    ctx.font = '15px ' + FONT;
    ctx.fillText(o.xTitle, o.xTitleX, o.xTitleY);
    ctx.font = '16px ' + FONT;
    ctx.textAlign = 'left';
    ctx.fillText(o.letter, o.letterX, o.letterY);
    ctx.restore();
  }
};

function ptsDataset(data) {
  return { type: 'scatter', data: data, pointStyle: 'circle', pointRadius: 2.8, pointBorderWidth: 1.05,
    pointBorderColor: '#000', pointBackgroundColor: 'rgba(0,0,0,0)', showLine: false, order: 2, clip: false };
}

function makePanel(id, cfg) {
  const canvas = document.getElementById(id);
  const W = canvas.width, H = canvas.height;
  return new Chart(canvas, {
    type: 'scatter',
    data: {
      datasets: [
        { type: 'line', data: zip([cfg.xMin, cfg.xMax], [0, 0]), borderColor: '#000', borderWidth: 1,
          borderDash: [2, 2], pointRadius: 0, order: 0, clip: false },
        { type: 'line', data: zip(cfg.smoothAge, cfg.smoothRes), borderColor: '#000', borderWidth: 1,
          pointRadius: 0, cubicInterpolationMode: 'monotone', order: 0, clip: false },
        ...cfg.pointSets.map(ptsDataset)
      ]
    },
    options: {
      responsive: false, animation: false, devicePixelRatio: 1, events: [],
      layout: { padding: { left: 0, top: cfg.top, right: W - cfg.right, bottom: 0 } },
      plugins: { legend: { display: false }, tooltip: { enabled: false }, rDecor: cfg.decor },
      scales: {
        x: {
          type: 'linear', position: 'bottom', min: cfg.xMin, max: cfg.xMax,
          afterBuildTicks: s => { s.ticks = ageTicks.map(v => ({ value: v })); },
          afterFit: s => { s.height = H - cfg.bottom; },
          ticks: { callback: (v, i) => ageTickLabels[i], color: '#000', padding: 3, maxRotation: 0,
            font: { family: FONT, size: 14 } },
          grid: { display: true, drawOnChartArea: false, drawTicks: true, tickLength: 6, color: '#000', lineWidth: 1 },
          border: { display: true, color: '#000', width: 1 }
        },
        y: {
          type: 'linear', position: 'left', min: cfg.yMin, max: cfg.yMax,
          afterBuildTicks: s => { s.ticks = cfg.yTicks.map(v => ({ value: v })); },
          afterFit: s => { s.width = cfg.left; },
          ticks: { display: false },
          grid: { display: true, drawOnChartArea: false, drawTicks: true, tickLength: 6, color: '#000', lineWidth: 1 },
          border: { display: true, color: '#000', width: 1 }
        }
      }
    },
    plugins: [rDecor]
  });
}

makePanel('c1', {
  left: 57, right: 543, top: 55, bottom: 493,
  xMin: 19.95, xMax: 99.3, yMin: -0.904, yMax: 1.0, yTicks: leftYTicks,
  smoothAge: leftSmoothAge, smoothRes: leftSmoothRes,
  pointSets: [pairs(leftDeaths), pairs(leftDeathsMore), pairs(leftDeathsExtra), pairs(leftCensored), pairs(leftCensoredMore), zip(leftFloorAges, leftFloorRes)],
  decor: { title: 'modèle de Cox vide', titleSize: 17, titleX: 286, titleY: 24,
    yTicks: leftYTicks, yLabels: leftYTickLabels, yLabelGap: 13,
    yTitle: 'Résidus de martingale', yTitleGap: 33, yTitleY: 268,
    xTitle: 'âge (années)', xTitleX: 300, xTitleY: 535, letter: 'a', letterX: 58, letterY: 542 }
});

makePanel('c2', {
  left: 65.3, right: 553, top: 55, bottom: 493.3,
  xMin: 19.95, xMax: 99.3, yMin: -2.894, yMax: 1.0, yTicks: rightYTicks,
  smoothAge: rightSmoothAge, smoothRes: rightSmoothRes,
  pointSets: [pairs(rightDeaths), pairs(rightDeathsMore), pairs(rightDeathsExtra), pairs(rightDeathTail), pairs(rightCensored), pairs(rightCensoredMore), pairs(rightCensoredExtra)],
  decor: { title: 'modèle de Cox avec un effet quadratique', titleSize: 16, titleX: 283, titleY: 24,
    yTicks: rightYTicks, yLabels: rightYTickLabels, yLabelGap: 13,
    yTitle: 'Résidus de martingale', yTitleGap: 33, yTitleY: 268,
    xTitle: 'âge (années)', xTitleX: 309, xTitleY: 535, letter: 'b', letterX: 66, letterY: 542 }
});
</script>
</body></html>
